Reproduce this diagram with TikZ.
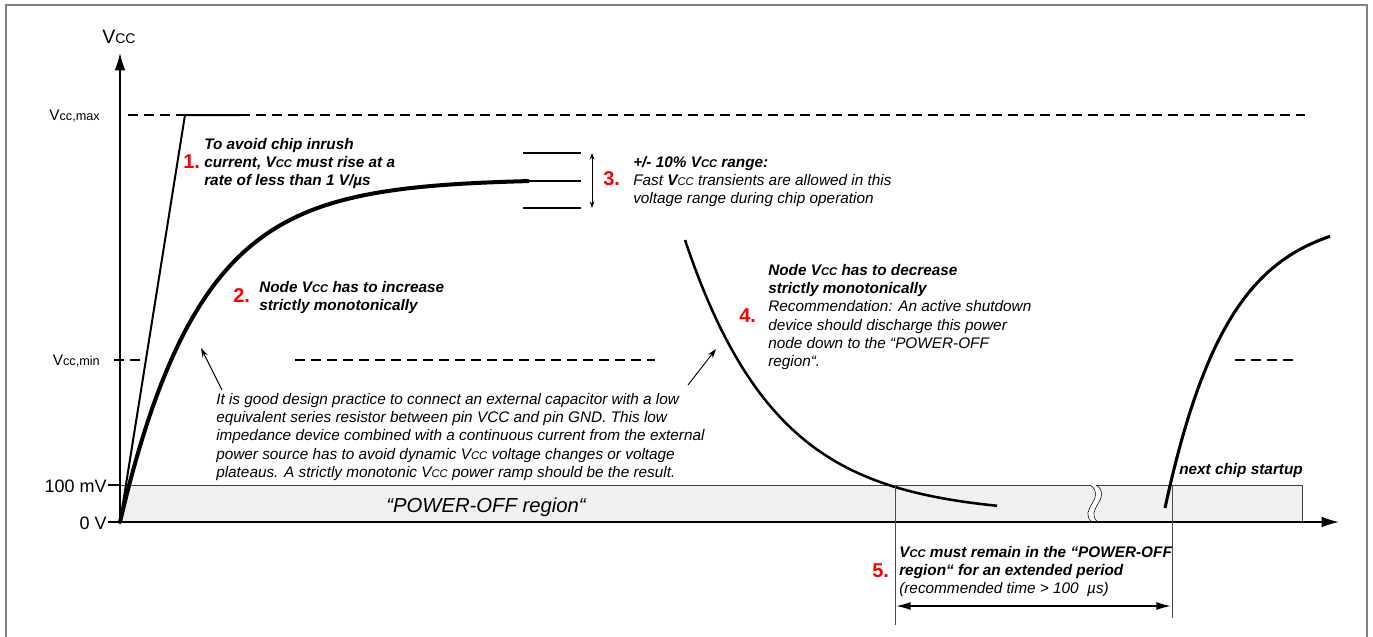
\documentclass[tikz,border=0pt]{standalone}
\usepackage{fontspec}
\setmainfont{Liberation Sans}
\usetikzlibrary{arrows.meta}

\newcommand{\vcc}{V{\fontsize{8.4}{8.4}\selectfont CC}}

\begin{document}
\begin{tikzpicture}[x=0.75pt,y=-0.75pt,
  axis/.style={line width=1.1pt},
  dashln/.style={line width=1.1pt, dash pattern=on 7.5pt off 4.5pt},
  txt/.style={inner sep=0pt, anchor=north west, align=left,
    font=\fontsize{11.5}{13.7}\selectfont\itshape},
  btxt/.style={txt, font=\fontsize{11.5}{13.7}\selectfont\bfseries\itshape},
  num/.style={inner sep=0pt, anchor=base west, text=red,
    font=\fontsize{15}{15}\selectfont\bfseries},
  lbl/.style={inner sep=0pt, anchor=east, font=\fontsize{13.5}{13.5}\selectfont},
  pointer/.style={-{Stealth[length=7pt,width=4.5pt]}, line width=0.7pt},
  marker/.style={line width=0.7pt, draw=black!70},
]
  \useasboundingbox (0,0) rectangle (1373,636);
  \draw[gray, line width=1.5pt] (6,640) -- (6,5) -- (1367,5) -- (1367,640);

  \coordinate (O) at (120,522);
  \coordinate (Ytop) at (120,53);
  \coordinate (Xend) at (1339,522);
  \coordinate (B) at (1302,485);
  \coordinate (A) at (185,115);
  \coordinate (A2) at (240,115);
  \coordinate (P) at (528,181);
  \coordinate (P2) at (581,181);
  \coordinate (Hi) at (581,153);
  \coordinate (Lo) at (581,208);

  % power-off band
  \fill[black!6] (O) rectangle (B);
  \draw[black!75, line width=0.7pt] (120,485) -- (B) -- (1302,522);
  \fill[white] (1090,485) .. controls (1108,497) and (1077,510) .. (1092,522)
    -- (1098,522) .. controls (1083,510) and (1114,497) .. (1096,485) -- cycle;
  \draw (1090,485) .. controls (1108,497) and (1077,510) .. (1092,522);
  \draw (1096,485) .. controls (1114,497) and (1083,510) .. (1098,522);

  % levels
  \draw[dashln] (128,115) -- (1305,115);
  \draw[dashln] (114,360) -- (146,360);
  \draw[dashln] (295,360) -- (655,360);
  \draw[dashln] (1235,360) -- (1296,360);
  \draw[axis] (108,485) -- (120,485);
  \draw[axis] (108,522) -- (O);

  % axes
  \draw[axis, -{Latex[length=13pt,width=8pt]}] (O) -- (Ytop);
  \draw[axis, -{Latex[length=13pt,width=8pt]}] (O) -- (Xend);

  % ramps
  \draw[line width=1.5pt, line join=miter] (O) -- (A) -- (A2);
  \draw[line width=3pt, line cap=round]
    plot[domain=0:408, samples=90] ({120+\x},{522-343*(1-exp(-\x/80))});
  \draw[line width=1.5pt] (P) -- (P2);
  \draw[line width=0.8pt] (523,153) -- (Hi);
  \draw[line width=0.8pt] (523,208) -- (Lo);
  \draw[line width=0.7pt, {Stealth[length=5pt,width=3.5pt]}-{Stealth[length=5pt,width=3.5pt]}]
    (592,153) -- (592,208);
  \draw[line width=1.9pt]
    plot[domain=0:312, samples=80] ({685+\x},{515-275*exp(-\x/92)});
  \draw[line width=2.3pt]
    plot[domain=0:165, samples=60] ({1165+\x},{215+293*exp(-\x/63)});

  % off period
  \coordinate (Off) at (895,485);
  \coordinate (On) at (1172,485);
  \draw[marker] (Off) -- (895,625);
  \draw[marker] (On) -- (1172,618);
  \coordinate (OffA) at (896,606);
  \coordinate (OnA) at (1171,606);
  \draw[line width=1.1pt, {Latex[length=11pt,width=6pt]}-{Latex[length=11pt,width=6pt]}] (OffA) -- (OnA);

  % pointers
  \coordinate (n1) at (222,390);
  \coordinate (c1) at (201,348);
  \coordinate (n2) at (688,385);
  \coordinate (c2) at (716,349);
  \draw[pointer] (n1) -- (c1);
  \draw[pointer] (n2) -- (c2);

  % axis labels
  \node[inner sep=0pt, anchor=base west] (vy) at (102,43)
    {\fontsize{14.6}{14.6}\selectfont V\fontsize{10.5}{10.5}\selectfont CC};
  \node[lbl, font=\fontsize{11.5}{11.5}\selectfont] (vmax) at (100,116)
    {V\fontsize{9.5}{9.5}\selectfont cc,max};
  \node[lbl, font=\fontsize{11.5}{11.5}\selectfont] (vmin) at (100,361)
    {V\fontsize{9.5}{9.5}\selectfont cc,min};
  \node[lbl] (mv) at (107,486) {100 mV};
  \node[lbl] (zero) at (107,523) {0 V};

  % annotations
  \node[num] (k1) at (183,168) {1.};
  \node[btxt] (t1) at (204,138)
    {To avoid chip inrush\\current, \vcc{} must rise at a\\rate of less than 1 V/µs};
  \node[num] (k2) at (233,302) {2.};
  \node[btxt] (t2) at (259,281)
    {Node \vcc{} has to increase\\strictly monotonically};
  \node[num] (k3) at (603,185) {3.};
  \node[txt] (t3) at (633,156)
    {{\bfseries +/- 10\% \vcc{} range:}\\Fast {\bfseries V}{\fontsize{8.4}{8.4}\selectfont CC} transients are allowed in this\\voltage range during chip operation};
  \node[num] (k4) at (739,322) {4.};
  \node[txt] (t4) at (768,264)
    {{\bfseries Node \vcc{} has to decrease}\\{\bfseries strictly monotonically}\\Recommendation: An active shutdown\\device should discharge this power\\node down to the “POWER-OFF\\region“.};
  \node[txt] (note) at (216,393)
    {It is good design practice to connect an external capacitor with a low\\equivalent series resistor between pin VCC and pin GND. This low\\impedance device combined with a continuous current from the external\\power source has to avoid dynamic \vcc{} voltage changes or voltage\\plateaus. A strictly monotonic \vcc{} power ramp should be the result.};
  \node[inner sep=0pt, font=\fontsize{15.2}{15.2}\selectfont\itshape] (off) at (486,507)
    {“POWER-OFF region“};
  \node[btxt] (next) at (1179,463) {next chip startup};
  \node[num] (k5) at (872,577) {5.};
  \node[txt] (t5) at (899,546)
    {{\bfseries \vcc{} must remain in the “POWER-OFF}\\{\bfseries region“ for an extended period}\\(recommended time > 100~~µs)};
\end{tikzpicture}
\end{document}
